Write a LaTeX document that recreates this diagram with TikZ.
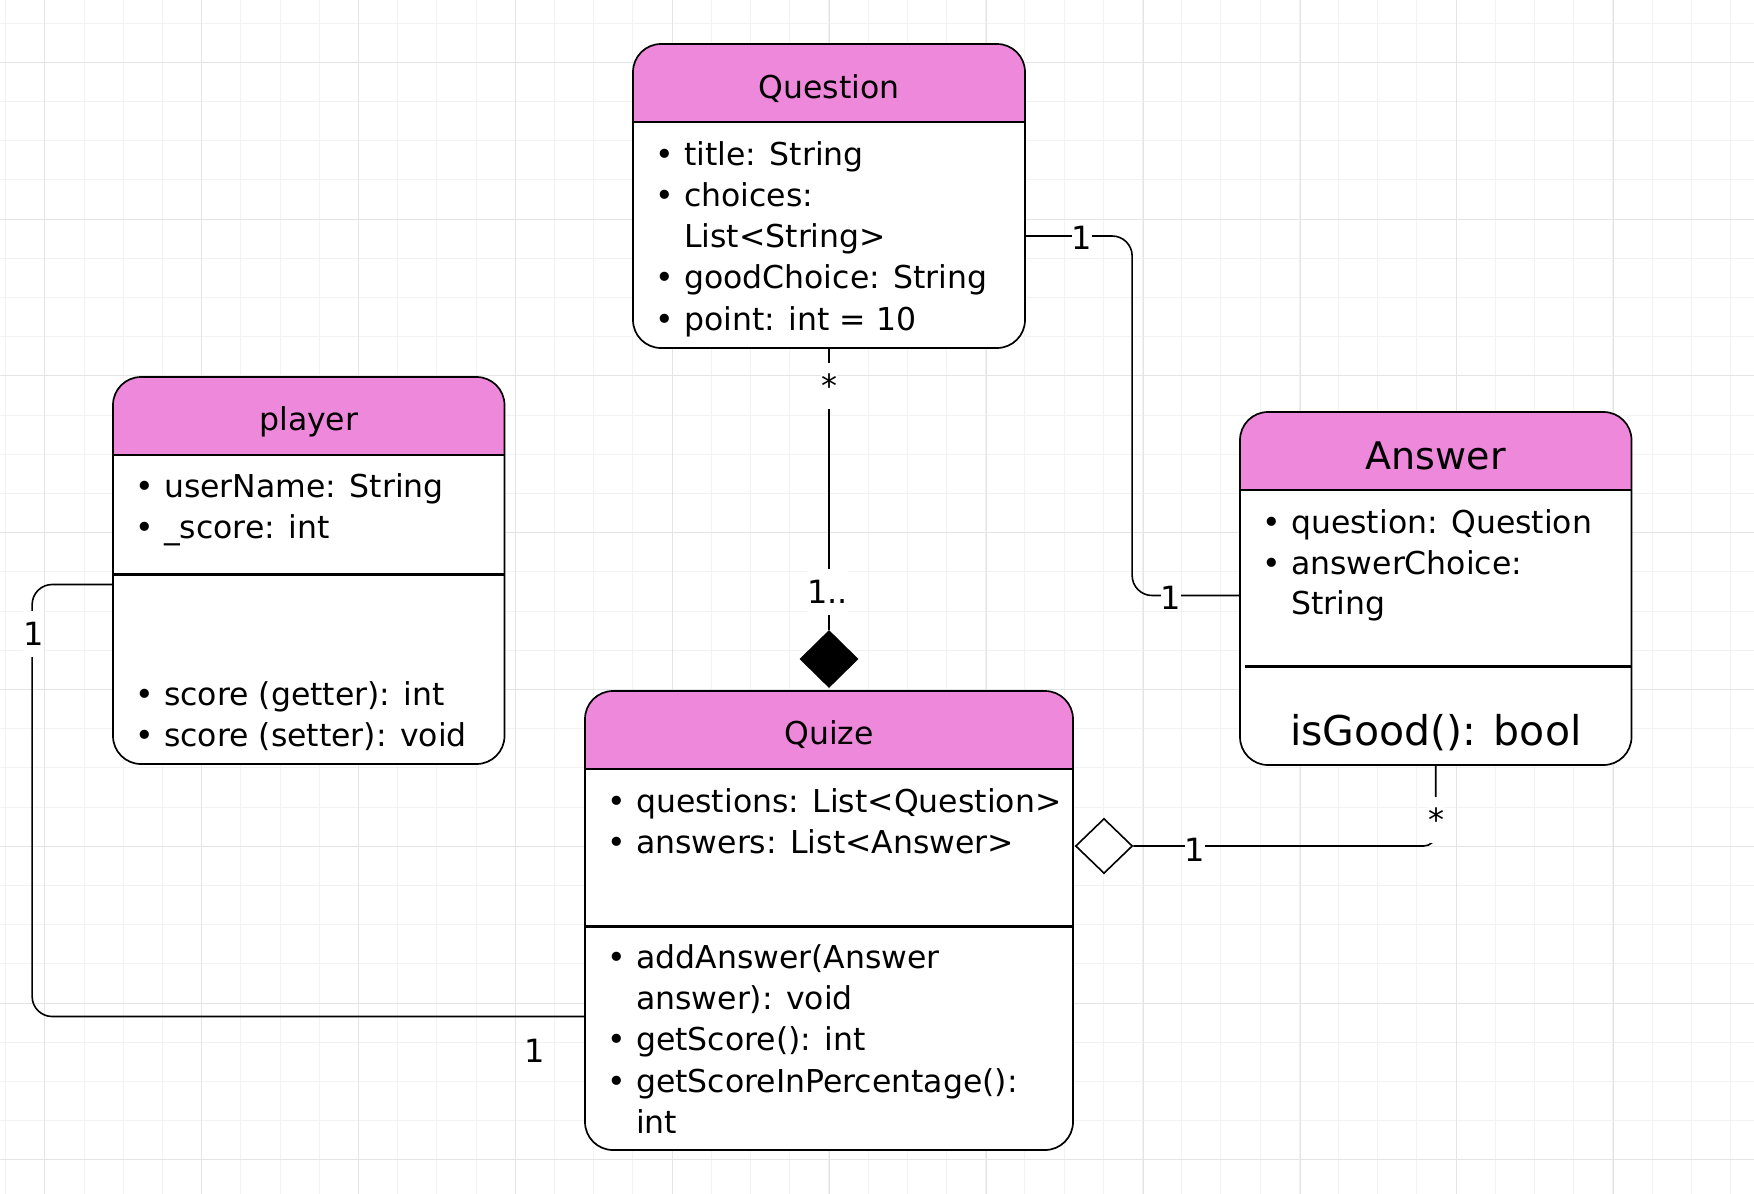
\documentclass[tikz,border=0pt]{standalone}
\usepackage{fontspec}
\setmainfont{DejaVu Sans}
\usetikzlibrary{shapes.geometric}
\definecolor{uml_pink}{RGB}{238, 136, 218}
\definecolor{grid_minor}{RGB}{242, 242, 242}
\definecolor{grid_major}{RGB}{228, 228, 228}
\tikzstyle{cls}=[rectangle,rounded corners=28pt,draw=black,fill=white,
  line width=1.7pt,inner sep=0pt,
  path picture={\fill[uml_pink,sharp corners] (path picture bounding box.north west)
    rectangle ([yshift=-78pt]path picture bounding box.north east);
    \draw[line width=1.6pt,sharp corners] ([yshift=-78pt]path picture bounding box.north west)
    -- ([yshift=-78pt]path picture bounding box.north east);}]
\tikzstyle{head}=[anchor=base,inner sep=0pt,font=\fontsize{31.5}{38}\selectfont]
\tikzstyle{bighead}=[anchor=base,inner sep=0pt,font=\fontsize{38}{46}\selectfont]
\tikzstyle{method}=[anchor=base,inner sep=0pt,font=\fontsize{41}{48}\selectfont]
\tikzstyle{item}=[anchor=base west,inner sep=0pt,font=\fontsize{31.5}{38}\selectfont]
\tikzstyle{mult}=[fill=white,inner sep=0pt,minimum height=46pt,font=\fontsize{32}{38}\selectfont]
\tikzstyle{hmult}=[fill=white,inner sep=0pt,font=\fontsize{32}{38}\selectfont]
\tikzstyle{plain}=[inner sep=0pt,font=\fontsize{32}{38}\selectfont]
\tikzstyle{filled}=[diamond,fill=black,inner sep=0pt,minimum width=59pt,minimum height=58pt]
\tikzstyle{hollow}=[diamond,fill=white,draw=black,line width=1.6pt,inner sep=0pt,
  minimum width=57pt,minimum height=55pt]
\tikzstyle{conn}=[line width=1.6pt,rounded corners=20pt]
\tikzstyle{sepline}=[line width=3pt]
\tikzstyle{gridminor}=[grid_minor,line width=1pt]
\tikzstyle{gridmajor}=[grid_major,line width=1pt]
\newcommand{\umlbullet}{\makebox[29pt][l]{•}}

\begin{document}
\begin{tikzpicture}[x=1pt, y=-1pt]
    \useasboundingbox (0, 0) rectangle (1754, 1194);
    \fill [white] (0, 0) rectangle (1754, 1194);
    % background grid
    \foreach \k in {0,...,44}
        \draw [style=gridminor] ({5.6+39.2*\k}, 0) -- ({5.6+39.2*\k}, 1194);
    \foreach \k in {0,...,30}
        \draw [style=gridminor] (0, {23.1+39.2*\k}) -- (1754, {23.1+39.2*\k});
    \foreach \k in {0,...,10}
        \draw [style=gridmajor] ({44.8+156.9*\k}, 0) -- ({44.8+156.9*\k}, 1194);
    \foreach \k in {0,...,7}
        \draw [style=gridmajor] (0, {62.3+156.8*\k}) -- (1754, {62.3+156.8*\k});

    % classes
    \node [style=cls, minimum width=392pt, minimum height=304pt] (0) at (829, 196) {};
    \node [style=cls, minimum width=391.5pt, minimum height=387pt] (1) at (308.75, 570.5) {};
    \node [style=cls, minimum width=488pt, minimum height=459pt] (2) at (829, 920.5) {};
    \node [style=cls, minimum width=391.5pt, minimum height=353pt] (3) at (1435.75, 588.5) {};
    \node [style=filled] (4) at (829, 659) {};
    \node [style=hollow] (5) at (1104, 846) {};
    \draw [style=sepline] ([yshift=-198pt]1.north west) to ([yshift=-198pt]1.north east);
    \draw [style=sepline] ([yshift=-236pt]2.north west) to ([yshift=-236pt]2.north east);
    \draw [style=sepline] ([xshift=5.5pt, yshift=-255pt]3.north west) to ([yshift=-255pt]3.north east);

    \node [style=head] (6) at (829, 98.3) {Question};
    \node [style=item] (7) at (655, 165) {\umlbullet title: String};
    \node [style=item] (8) at (655, 206.5) {\umlbullet choices:};
    \node [style=item] (9) at (684, 247.5) {List<String>};
    \node [style=item] (10) at (655, 288.5) {\umlbullet goodChoice: String};
    \node [style=item] (11) at (655, 330) {\umlbullet point: int = 10};

    \node [style=head] (12) at (308.75, 430.5) {player};
    \node [style=item] (13) at (135, 497) {\umlbullet userName: String};
    \node [style=item] (14) at (135, 538.5) {\umlbullet \_score: int};
    \node [style=item] (15) at (135, 705.5) {\umlbullet score (getter): int};
    \node [style=item] (16) at (135, 746) {\umlbullet score (setter): void};

    \node [style=head] (17) at (829, 744.5) {Quize};
    \node [style=item] (18) at (607, 812.5) {\umlbullet questions: List<Question>};
    \node [style=item] (19) at (607, 853.5) {\umlbullet answers: List<Answer>};
    \node [style=item] (20) at (607, 968.5) {\umlbullet addAnswer(Answer};
    \node [style=item] (21) at (636, 1009.5) {answer): void};
    \node [style=item] (22) at (607, 1050.5) {\umlbullet getScore(): int};
    \node [style=item] (23) at (607, 1092) {\umlbullet getScoreInPercentage():};
    \node [style=item] (24) at (636, 1133) {int};

    \node [style=bighead] (25) at (1435.75, 469.3) {Answer};
    \node [style=item] (26) at (1262, 533.3) {\umlbullet question: Question};
    \node [style=item] (27) at (1262, 574) {\umlbullet answerChoice:};
    \node [style=item] (28) at (1291, 614.5) {String};
    \node [style=method] (29) at (1435.75, 745) {isGood(): bool};

    % associations
    \draw [style=conn] ([yshift=-40pt]0.east) -| ([xshift=-107pt, yshift=-7pt]3.west) to ([yshift=-7pt]3.west);
    \draw [style=conn] ([yshift=-14pt]1.west) -| ([xshift=-552pt, yshift=-96pt]2.west) to ([yshift=-96pt]2.west);
    \draw [style=conn] (0.south) to (4.north);
    \draw [style=conn, rounded corners=12pt] (3.south) |- (5.east);

    \node [style=mult] (30) at (829, 385.5) {*};
    \node [style=mult] (31) at (827.5, 591.7) {1..};
    \node [style=hmult] (32) at (1082, 238) {1};
    \node [style=hmult] (33) at (1171, 598) {1};
    \node [style=mult] (34) at (1436, 820) {*};
    \node [style=hmult] (35) at (1195, 849.5) {1};
    \node [style=mult] (36) at (33.5, 634) {1};
    \node [style=plain] (37) at (535, 1051) {1};
\end{tikzpicture}
\end{document}
